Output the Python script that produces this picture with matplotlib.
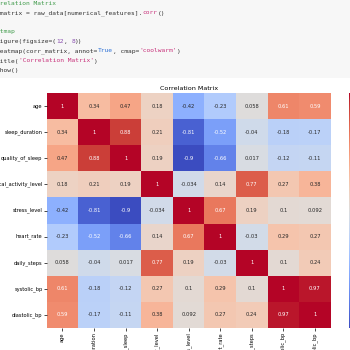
import numpy as np
import matplotlib
matplotlib.use("Agg")
import matplotlib.pyplot as plt
import seaborn as sns
from matplotlib.patches import Rectangle

features = ["age", "sleep_duration", "quality_of_sleep", "physical_activity_level",
            "stress_level", "heart_rate", "daily_steps", "systolic_bp", "diastolic_bp"]

row_age = [1, 0.34, 0.47, 0.18, -0.42, -0.23, 0.058, 0.61, 0.59]
row_sleep_duration = [0.34, 1, 0.88, 0.21, -0.81, -0.52, -0.04, -0.18, -0.17]
row_quality_of_sleep = [0.47, 0.88, 1, 0.19, -0.9, -0.66, 0.017, -0.12, -0.11]
row_physical_activity = [0.18, 0.21, 0.19, 1, -0.034, 0.14, 0.77, 0.27, 0.38]
row_stress_level = [-0.42, -0.81, -0.9, -0.034, 1, 0.67, 0.19, 0.1, 0.092]
row_heart_rate = [-0.23, -0.52, -0.66, 0.14, 0.67, 1, -0.03, 0.29, 0.27]
row_daily_steps = [0.058, -0.04, 0.017, 0.77, 0.19, -0.03, 1, 0.1, 0.24]
row_systolic_bp = [0.61, -0.18, -0.12, 0.27, 0.1, 0.29, 0.1, 1, 0.97]
row_diastolic_bp = [0.59, -0.17, -0.11, 0.38, 0.092, 0.27, 0.24, 0.97, 1]

corr = np.array([row_age, row_sleep_duration, row_quality_of_sleep, row_physical_activity,
                 row_stress_level, row_heart_rate, row_daily_steps, row_systolic_bp,
                 row_diastolic_bp])

W = H = 350
DPI = 100
fig = plt.figure(figsize=(W / DPI, H / DPI), dpi=DPI)
fig.patch.set_facecolor("white")

# code cell background
fig.patches.append(Rectangle((0, 1 - 78 / H), 1, 78 / H, transform=fig.transFigure,
                             facecolor="#f7f7f7", edgecolor="none", zorder=0))

# code text
C_DEF = "#333333"
C_COM = "#3f9a4a"
C_STR = "#c8307a"
C_KW = "#2a6fd6"
C_NUM = "#8a4fb0"
code_lines = [
    [("# Correlation Matrix", C_COM)],
    [("corr_matrix = raw_data[numerical_features].", C_DEF), ("corr", C_STR), ("()", C_DEF)],
    [],
    [("# Heatmap", C_COM)],
    [("plt.figure(figsize=(", C_DEF), ("12", C_NUM), (", ", C_DEF), ("8", C_NUM), ("))", C_DEF)],
    [("sns.heatmap(corr_matrix, annot=", C_DEF), ("True", C_KW), (", cmap=", C_DEF),
     ("'coolwarm'", C_STR), (")", C_DEF)],
    [("plt.title(", C_DEF), ("'Correlation Matrix'", C_STR), (")", C_DEF)],
    [("plt.show()", C_DEF)],
]
code_fs = 4.5
char_w = code_fs * DPI / 72 * 0.602 / W
x0 = -19 / W
line_y = [3.5, 13, 22.5, 32, 41.5, 51, 61, 70.5]
for segs, yp in zip(code_lines, line_y):
    x = x0
    for txt, col in segs:
        fig.text(x, 1 - yp / H, txt, color=col, fontsize=code_fs,
                 family="DejaVu Sans Mono", va="center", ha="left")
        x += len(txt) * char_w

# heatmap
left, right, top, bottom = 46.7, 330.7, 93, 328
ax = fig.add_axes([left / W, 1 - bottom / H, (right - left) / W, (bottom - top) / H])
cax = fig.add_axes([349 / W, 1 - bottom / H, 12 / W, (bottom - top) / H])
sns.heatmap(corr, annot=True, cmap="coolwarm", ax=ax, cbar_ax=cax,
            xticklabels=features, yticklabels=features,
            annot_kws={"fontsize": 3.7})
ax.set_title("Correlation Matrix", fontsize=4.6, pad=2)
ax.tick_params(axis="both", labelsize=3.7, length=2, width=0.5, pad=1)
plt.setp(ax.get_xticklabels(), rotation=90)
plt.setp(ax.get_yticklabels(), rotation=0)
cax.tick_params(labelsize=3.7)

fig.savefig("out.png", dpi=DPI)
